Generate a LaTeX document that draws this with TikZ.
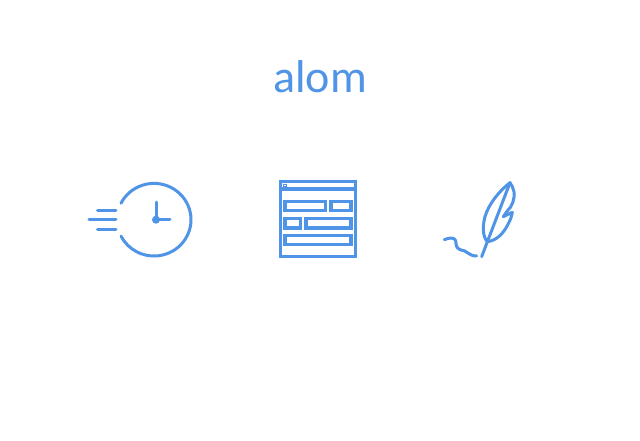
\documentclass[tikz,border=0pt]{standalone}
\usepackage{fontspec}
\setmainfont{Carlito}
\definecolor{iconblue}{HTML}{4F94E6}
\tikzset{
  icon/.style={draw=iconblue,line width=3.3pt,fill=none},
  thin icon/.style={draw=iconblue,line width=3pt,line cap=round,line join=round,fill=none},
  zoomed/.style={x=0.3333pt,y=-0.3333pt}
}
\begin{document}
\begin{tikzpicture}[x=1pt,y=-1pt]
\useasboundingbox (0,0) rectangle (640,440);
\fill[white] (0,0) rectangle (640,440);
\node[text=iconblue,font=\fontsize{46}{50}\selectfont,anchor=base] (title) at (320,92) {alom};
% clock
\coordinate (cc) at (156,219.7);
\draw[thin icon,line width=3pt] (154,219.7) ++(153:37pt and 36.3pt) arc[start angle=153,end angle=-153,x radius=37pt,y radius=36.3pt];
\fill[iconblue] (cc) circle (4pt);
\draw[thin icon] (156,202) -- (cc) -- (170,219.7);
\draw[thin icon] (97.5,210.2) -- (116,210.2);
\draw[thin icon] (89,219.7) -- (116,219.7);
\draw[thin icon] (97.5,229.2) -- (116,229.2);
% window
\draw[icon] (280.3,181.7) rectangle (355.8,256.3);
\draw[icon] (280.3,189) -- (355.8,189);
\draw[iconblue,line width=1pt] (283.8,184.3) rectangle (286.5,186);
\draw[icon] (285,201.5) rectangle (325.5,210.5);
\draw[icon] (331,201.5) rectangle (351,210.5);
\draw[icon] (285,218.5) rectangle (300.5,228);
\draw[icon] (306,218.5) rectangle (351,228);
\draw[icon] (285,235.5) rectangle (351,244.5);
% feather
\begin{scope}[shift={(435,170)},zoomed]
\draw[thin icon] (140,260) -- (225,38);
\draw[thin icon] (225,38) .. controls (190,65) and (160,105) .. (150,140)
  .. controls (142,170) and (143,200) .. (157,215)
  .. controls (185,212) and (205,190) .. (218,165)
  .. controls (225,152) and (230,140) .. (232,127)
  -- (205,140) -- (216,124)
  .. controls (232,110) and (240,85) .. (237,65)
  .. controls (235,55) and (230,45) .. (225,38) -- cycle;
\draw[thin icon] (28,209) .. controls (40,204) and (58,200) .. (62,212)
  .. controls (64,225) and (62,235) .. (78,240)
  .. controls (95,240) and (100,258) .. (125,258);
\end{scope}
\end{tikzpicture}
\end{document}
